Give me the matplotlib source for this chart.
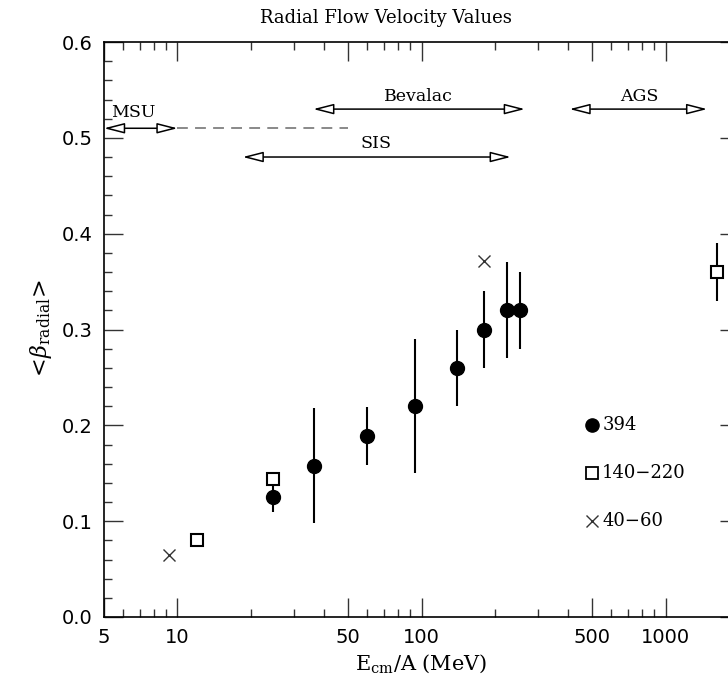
import numpy as np
import matplotlib
matplotlib.use("Agg")
import matplotlib.pyplot as plt
from matplotlib.ticker import FixedLocator, NullFormatter

plt.rcParams['mathtext.fontset'] = 'dejavuserif'

# data
e_394 = [24.6, 36.4, 60, 94, 140, 180, 223, 252]
b_394 = [0.125, 0.158, 0.189, 0.220, 0.260, 0.300, 0.320, 0.320]
err_394 = [0.015, 0.060, 0.030, 0.070, 0.040, 0.040, 0.050, 0.040]

e_mid = [12.0, 24.6, 1620]
b_mid = [0.080, 0.144, 0.360]
err_mid = [0.0, 0.0, 0.030]

e_low = [9.2, 180]
b_low = [0.065, 0.372]

# accelerator ranges (label, left, right, y)
ranges = [
    ("MSU", 5, 10, 0.510),
    ("Bevalac", 36, 265, 0.530),
    ("SIS", 18.5, 232, 0.480),
    ("AGS", 404, 1480, 0.530),
]
label_pos = {"MSU": (5.35, 0.526, 'left'), "Bevalac": (97, 0.543, 'center'),
             "SIS": (65, 0.494, 'center'), "AGS": (780, 0.543, 'center')}

legend_labels = ["394", "140\u2212220", "40\u221260"]
legend_y = [0.200, 0.150, 0.100]

xticks_major = [5, 10, 50, 100, 500, 1000]
xticks_minor = [6, 7, 8, 9, 20, 30, 40, 60, 70, 80, 90, 200, 300, 400,
                600, 700, 800, 900, 2000]

fig = plt.figure(figsize=(7.28, 6.9), dpi=100)
ax = fig.add_axes([0.1429, 0.1058, 0.8723, 0.8333])

ax.set_xscale('log')
ax.set_xlim(5, 2000)
ax.set_ylim(0.0, 0.6)

ax.errorbar(e_394, b_394, yerr=err_394, fmt='o', color='black', ms=10,
            elinewidth=1.5, capsize=0, zorder=3)
ax.errorbar(e_mid, b_mid, yerr=err_mid, fmt='s', mfc='white', mec='black',
            mew=1.5, ms=8, ecolor='black', elinewidth=1.5, capsize=0, zorder=4)
ax.plot(e_low, b_low, 'x', color='#333333', ms=9, mew=1.0, zorder=3)

# dashed continuation of MSU
ax.plot([10, 50], [0.510, 0.510], ls=(0, (6, 4)), color='gray', lw=1.3)

for name, x0, x1, y in ranges:
    ax.annotate('', xy=(x1, y), xytext=(x0, y),
                arrowprops=dict(arrowstyle='<|-|>,head_length=1.25,head_width=0.32',
                                fc='white', ec='black', lw=1.1,
                                shrinkA=0, shrinkB=0))
    tx, ty, ha = label_pos[name]
    ax.text(tx, ty, name, ha=ha, va='center', fontsize=12.5,
            family='DejaVu Serif')

# legend drawn in data space
ax.plot([500], [legend_y[0]], 'o', color='black', ms=9.5)
ax.plot([500], [legend_y[1]], 's', mfc='white', mec='black', mew=1.3, ms=8)
ax.plot([500], [legend_y[2]], 'x', color='#333333', ms=9, mew=1.0)
for lab, y in zip(legend_labels, legend_y):
    ax.text(550, y, lab, ha='left', va='center', fontsize=13,
            family='DejaVu Serif')

ax.xaxis.set_major_locator(FixedLocator(xticks_major))
ax.xaxis.set_minor_locator(FixedLocator(xticks_minor))
ax.xaxis.set_minor_formatter(NullFormatter())
ax.set_xticklabels([str(t) for t in xticks_major])
ax.set_yticks(np.arange(0, 0.61, 0.1))
ax.set_yticks(np.arange(0, 0.601, 0.02), minor=True)
ax.set_yticklabels(["%.1f" % v for v in np.arange(0, 0.61, 0.1)])

ax.tick_params(which='both', direction='in', top=True, right=True,
               labelsize=14, width=1.0, color='#333333')
ax.tick_params(which='major', length=14, pad=8)
ax.tick_params(which='minor', length=6)
for s in ax.spines.values():
    s.set_linewidth(1.2)

fig.text(386 / 728, 1 - 18 / 690, "Radial Flow Velocity Values",
         ha='center', va='center', fontsize=13, family='DejaVu Serif')
ax.set_xlabel(r"E$_{\mathrm{cm}}$/A (MeV)", fontsize=15,
              family='DejaVu Serif', labelpad=4)
ax.set_ylabel(r"$<\!\beta_{\mathrm{radial}}\!>$", fontsize=16, labelpad=6)

fig.savefig("out.png", dpi=100)
